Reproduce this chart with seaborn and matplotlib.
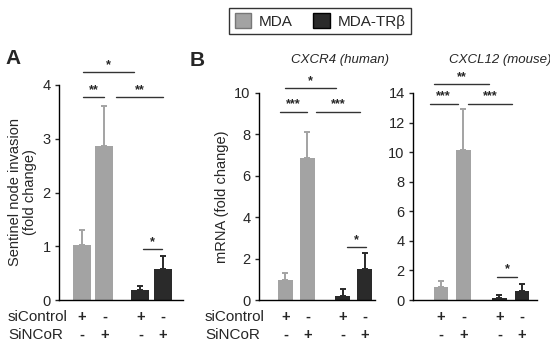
import numpy as np
import pandas as pd
import seaborn as sns
import matplotlib
matplotlib.use("Agg")
import matplotlib.pyplot as plt
from matplotlib.patches import Patch
from matplotlib.transforms import blended_transform_factory

# ---- data ----
cells = ["MDA", "MDA", "MDA-TRβ", "MDA-TRβ"]
sicontrol = ["+", "-", "+", "-"]
sincor = ["-", "+", "-", "+"]

invasion_mean = [1.03, 2.86, 0.18, 0.58]
invasion_err = [0.28, 0.75, 0.08, 0.23]

cxcr4_mean = [0.96, 6.85, 0.21, 1.52]
cxcr4_err = [0.36, 1.29, 0.32, 0.73]

cxcl12_mean = [0.86, 10.14, 0.11, 0.63]
cxcl12_err = [0.45, 2.81, 0.23, 0.45]

legend_labels = ["MDA", "MDA-TRβ"]

# ---- style ----
sns.set_style("ticks")
plt.rcParams["font.family"] = ["Liberation Sans", "DejaVu Sans"]
GRAY = "#a3a3a3"
DARK = "#2a2a2a"
palette = {"MDA": GRAY, "MDA-TRβ": DARK}
positions = [0, 1, 2.6, 3.6]

fig = plt.figure(figsize=(5.5, 3.43), dpi=100)
W, H = 550, 343
ROW1, ROW2 = 317, 335

def add_ax(l, r, b, t):
    return fig.add_axes([l / W, 1 - b / H, (r - l) / W, (b - t) / H])

axA = add_ax(59, 183, 300, 85)
axB1 = add_ax(259, 375, 300, 93)
axB2 = add_ax(413, 537, 300, 93)

def draw(ax, means, errs, ymax, ystep, xlim, width):
    df = pd.DataFrame({"pos": positions, "val": means, "cell": cells})
    sns.barplot(data=df, x="pos", y="val", hue="cell", native_scale=True,
                dodge=False, palette=palette, errorbar=None, width=width,
                saturation=1, linewidth=0, legend=False, ax=ax)
    for p, m, e, c in zip(positions, means, errs, cells):
        ax.errorbar(p, m, yerr=[[0], [e]], color=palette[c], capsize=2.5,
                    elinewidth=1.4, capthick=1.4, fmt="none")
    ax.set_ylim(0, ymax)
    ax.set_xlim(*xlim)
    ax.set_yticks(np.arange(0, ymax + 0.01, ystep))
    ax.set_xticks([])
    ax.set_xlabel("")
    ax.set_ylabel("")
    sns.despine(ax=ax)
    for s in ["left", "bottom"]:
        ax.spines[s].set_linewidth(1.0)
        ax.spines[s].set_color("black")
    ax.tick_params(axis="y", length=3, width=1, labelsize=10.5, pad=3)
    tr = blended_transform_factory(ax.transData, fig.transFigure)
    for p, a, b in zip(positions, sicontrol, sincor):
        ax.text(p, 1 - ROW1 / H, a, transform=tr, ha="center", va="center",
                fontsize=10.5, fontweight="bold")
        ax.text(p, 1 - ROW2 / H, b, transform=tr, ha="center", va="center",
                fontsize=10.5, fontweight="bold")

def sig(ax, x0, x1, y, stars, off):
    ax.plot([x0, x1], [y, y], color="#333333", lw=1, clip_on=False)
    ax.text((x0 + x1) / 2, y + off, stars, ha="center", va="bottom",
            fontsize=9, fontweight="bold", clip_on=False)

draw(axA, invasion_mean, invasion_err, 4, 1, (-1.02, 4.49), 0.8)
draw(axB1, cxcr4_mean, cxcr4_err, 10, 2, (-1.2, 4.07), 0.68)
draw(axB2, cxcl12_mean, cxcl12_err, 14, 2, (-1.24, 4.27), 0.65)

# significance marks
sig(axA, 0.05, 2.3, 4.24, "*", 0.02)
sig(axA, 0.05, 1.0, 3.77, "**", 0.02)
sig(axA, 1.5, 3.6, 3.77, "**", 0.02)
sig(axA, 2.7, 3.55, 0.95, "*", 0.02)

sig(axB1, 0.0, 2.3, 10.25, "*", 0.05)
sig(axB1, -0.25, 1.0, 9.1, "***", 0.05)
sig(axB1, 1.4, 3.4, 9.1, "***", 0.05)
sig(axB1, 2.8, 3.65, 2.57, "*", 0.05)

sig(axB2, -0.3, 2.15, 14.6, "**", 0.07)
sig(axB2, -0.5, 0.75, 13.28, "***", 0.07)
sig(axB2, 1.2, 3.15, 13.28, "***", 0.07)
sig(axB2, 2.5, 3.4, 1.58, "*", 0.07)

# y labels
axA.set_ylabel("Sentinel node invasion\n(fold change)", fontsize=10.5,
               linespacing=1.1, labelpad=4)
axB1.set_ylabel("mRNA (fold change)", fontsize=10.5, labelpad=4)

# row labels
for x in [8, 205]:
    fig.text(x / W, 1 - ROW1 / H, "siControl", fontsize=11, va="center", ha="left")
    fig.text(x / W, 1 - ROW2 / H, "SiNCoR", fontsize=11, va="center", ha="left")

# panel letters
fig.text(5 / W, 1 - 58 / H, "A", fontsize=15, fontweight="bold", va="center")
fig.text(190 / W, 1 - 61 / H, "B", fontsize=15, fontweight="bold", va="center")

# subtitles
fig.text(340 / W, 1 - 60 / H, "CXCR4 (human)", fontsize=9.5, style="italic",
         ha="center", va="center")
fig.text(500 / W, 1 - 60 / H, "CXCL12 (mouse)", fontsize=9.5, style="italic",
         ha="center", va="center")

# legend
handles = [Patch(facecolor=GRAY, edgecolor="#777777", label=legend_labels[0]),
           Patch(facecolor=DARK, edgecolor="black", label=legend_labels[1])]
leg = fig.legend(handles=handles, loc="upper center", ncol=2,
                 bbox_to_anchor=(320 / W, 1 - 0.5 / H), fontsize=11,
                 frameon=True, fancybox=False, handlelength=1.1,
                 handleheight=1.1, columnspacing=1.3, handletextpad=0.5,
                 borderpad=0.35)
leg.get_frame().set_edgecolor("black")
leg.get_frame().set_linewidth(1.0)

fig.savefig("out.png", dpi=100)
